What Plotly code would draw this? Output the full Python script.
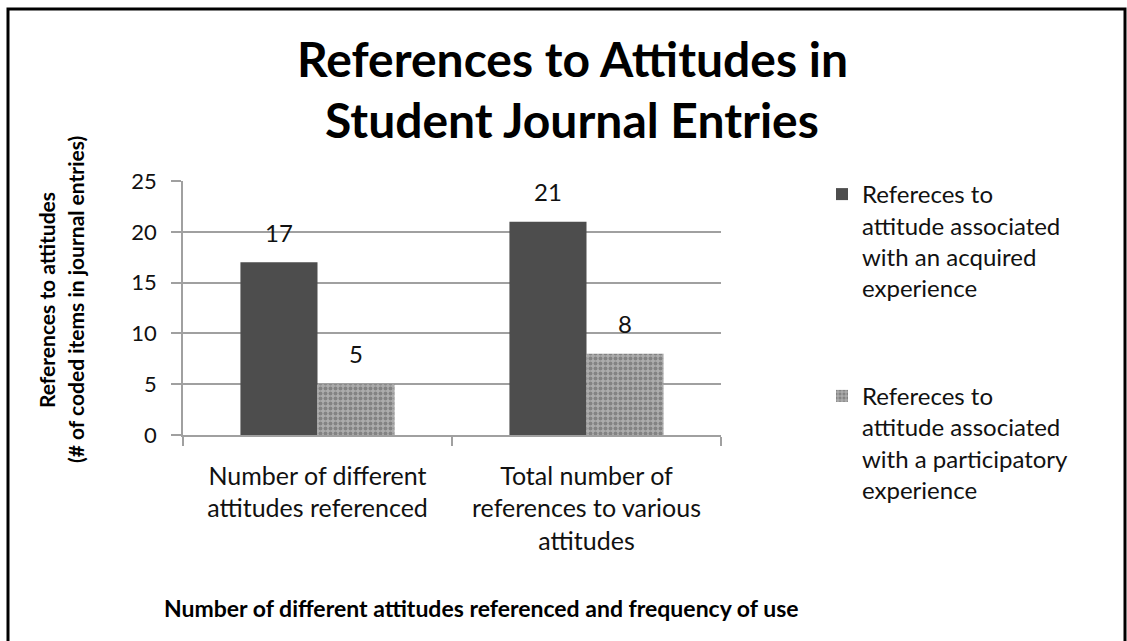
import plotly.graph_objects as go

# ---------------- data ----------------
categories = [
    "Number of different<br>attitudes referenced",
    "Total number of<br>references to various<br>attitudes",
]
series_names = [
    "Refereces to<br>attitude associated<br>with an acquired<br>experience",
    "Refereces to<br>attitude associated<br>with a participatory<br>experience",
]
acquired = [17, 21]
participatory = [5, 8]
y_ticks = [0, 5, 10, 15, 20, 25]
title_lines = ["References to Attitudes in", "Student Journal Entries"]
y_title_lines = ["References to attitudes", "(# of coded items in journal entries)"]
x_title = "Number of different attitudes referenced and frequency of use"

# ---------------- layout geometry (pixels) ----------------
W, H = 1127, 641
L, R, T, B = 183, 721, 181, 435  # plot area edges


def px_x(px):
    return (px - L) / (R - L)


def px_y(py):
    return (B - py) / (B - T)


FONT = "Lato"
DARK = "#4d4d4d"
GRID = "#a0a0a0"
BARGAP = 0.427

fig = go.Figure()
fig.add_trace(go.Bar(
    x=categories, y=acquired, name=series_names[0], legendgroup="g1",
    marker=dict(color=DARK, line=dict(width=0)),
    offsetgroup="a",
))
fig.add_trace(go.Bar(
    x=categories, y=participatory, name=series_names[1], legendgroup="g2",
    marker=dict(
        color="#a0a0a0", line=dict(width=0),
        pattern=dict(shape=".", fgcolor="#5a5a5a", bgcolor="#acacac",
                     size=5, solidity=0.5, fillmode="overlay"),
    ),
    offsetgroup="b",
))
# value labels
for vals, grp in ((acquired, "a"), (participatory, "b")):
    fig.add_trace(go.Scatter(
        x=categories, y=vals, mode="markers+text", text=[str(v) for v in vals],
        textposition="top center", offsetgroup=grp,
        marker=dict(size=22, color="rgba(0,0,0,0)"),
        textfont=dict(family=FONT, size=24, color="#111111"),
        showlegend=False, hoverinfo="skip", cliponaxis=False,
    ))

annotations = []
# title lines
for text, py in zip(title_lines, [58, 119]):
    annotations.append(dict(
        text="<b>%s</b>" % text, x=px_x(572), y=px_y(py), xref="paper", yref="paper",
        xanchor="center", yanchor="middle", showarrow=False,
        font=dict(family=FONT, size=48, color="#000000"),
    ))
# y-axis title lines
for text, px in zip(y_title_lines, [46, 75]):
    annotations.append(dict(
        text="<b>%s</b>" % text, x=px_x(px), y=px_y(300), xref="paper", yref="paper",
        xanchor="center", yanchor="middle", textangle=-90, showarrow=False,
        font=dict(family=FONT, size=21, color="#000000"),
    ))
# x-axis title
annotations.append(dict(
    text="<b>%s</b>" % x_title, x=px_x(162), y=px_y(608), xref="paper", yref="paper",
    xanchor="left", yanchor="middle", showarrow=False,
    font=dict(family=FONT, size=23, color="#000000"),
))

shapes = [dict(
    type="rect", xref="paper", yref="paper",
    x0=px_x(8), x1=px_x(1125), y0=px_y(680), y1=px_y(9),
    line=dict(color="#000000", width=3), fillcolor="rgba(0,0,0,0)", layer="above",
)]

fig.update_layout(
    width=W, height=H,
    margin=dict(l=L, r=W - R, t=T, b=H - B, pad=0),
    paper_bgcolor="#ffffff", plot_bgcolor="#ffffff",
    barmode="group", bargap=BARGAP, bargroupgap=0,
    scattermode="group", scattergap=BARGAP,
    font=dict(family=FONT, color="#000000"),
    showlegend=True,
    legend=dict(
        xref="container", yref="container",
        x=822 / W, y=1 - 172 / H, xanchor="left", yanchor="top",
        font=dict(family=FONT, size=24, color="#111111"),
        tracegroupgap=74, valign="top", bgcolor="rgba(0,0,0,0)",
        itemwidth=30, maxheight=620,
    ),
    annotations=annotations,
    shapes=shapes,
)
fig.update_xaxes(
    type="category", showgrid=False, showline=True, linecolor=GRID, linewidth=1.5,
    ticks="outside", tickson="boundaries", ticklen=9, tickcolor=GRID, tickwidth=1.5,
    tickfont=dict(family=FONT, size=25, color="#111111"), ticklabelstandoff=18,
)
fig.update_yaxes(
    range=[0, 25], tickvals=y_ticks, showgrid=True, gridcolor=GRID, gridwidth=1.5,
    showline=True, linecolor=GRID, linewidth=1.5, zeroline=False,
    ticks="outside", ticklen=10, tickcolor=GRID, tickwidth=1.5,
    tickfont=dict(family=FONT, size=22, color="#111111"), ticklabelstandoff=10,
)

fig.write_html("out.html")
